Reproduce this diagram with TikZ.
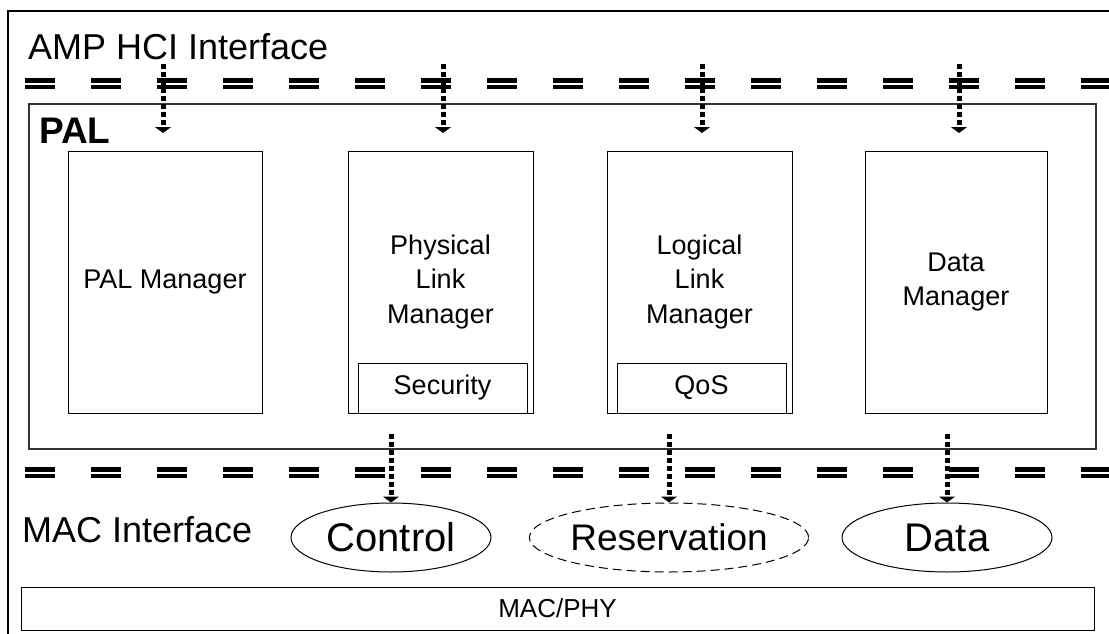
\documentclass[tikz,border=0pt]{standalone}
\usepackage{fontspec}
\setmainfont{Liberation Sans}
\usetikzlibrary{shapes.geometric,arrows.meta}

\begin{document}
\begin{tikzpicture}[x=1pt,y=-1pt,
    mgr/.style={draw, line width=1pt, minimum width=185pt, minimum height=262pt, align=center, font=\fontsize{27}{34.5}\selectfont},
    sub/.style={draw, line width=1pt, minimum width=169pt, minimum height=50pt, inner sep=0pt, font=\fontsize{27}{32}\selectfont},
    chan/.style={ellipse, draw, line width=1pt, minimum height=69pt, inner sep=0pt, font=\fontsize{40}{48}\selectfont},
    lbl/.style={anchor=base west, inner sep=0pt, font=\fontsize{36}{43}\selectfont},
    bar/.style={line width=4.5pt, dash pattern=on 30pt off 36pt},
    flow/.style={line width=5pt, dash pattern=on 5pt off 3pt, -{Triangle[width=16pt,length=6pt]}}]
    \useasboundingbox (0,0) rectangle (1109,634);

    \draw[line width=2pt] (8,640) |- (1115,11);

    \node[lbl] (hci) at (28,60) {AMP HCI Interface};
    \node[lbl] (macif) at (22,542) {MAC Interface};

    \node[draw=black!80, line width=1.5pt, minimum width=1067pt, minimum height=345pt] (pal) at (562.5,276.5) {};
    \node[anchor=base west, inner sep=0pt, font=\bfseries\fontsize{37}{44}\selectfont] (pallbl) at (39,143) {PAL};

    \node[mgr, minimum width=194pt] (palmgr) at (165,282) {PAL Manager};
    \node[mgr] (phymgr) at (440.5,282) {Physical\\Link\\Manager};
    \node[mgr] (logmgr) at (699.5,282) {Logical\\Link\\Manager};
    \node[mgr, minimum width=182pt] (datamgr) at (956,282) {Data\\Manager};

    \node[sub] (sec) at (442.5,388) {Security};
    \node[sub] (qos) at (701.5,388) {QoS};

    \node[chan, minimum width=200pt] (ctrl) at (391,537.5) {Control};
    \node[chan, dash pattern=on 9pt off 5pt, minimum width=272pt, font=\fontsize{37}{44}\selectfont] (resv) at (669,537.5) {Reservation};
    \node[chan, minimum width=210pt] (data) at (947,537.5) {Data};

    \node[draw, line width=1pt, minimum width=1073pt, minimum height=43pt, font=\fontsize{26}{31}\selectfont] (macphy) at (557.5,608.5) {MAC/PHY};

    \foreach \y in {80.5,87,469.25,475.75}
        \draw[bar] (25,\y) -- (1109,\y);

    \foreach \x [count=\i] in {163,443,702,959} {
        \coordinate (src\i) at (\x,64);
        \coordinate (dst\i) at (\x,133);
        \draw[flow] (src\i) -- (dst\i);
    }

    \coordinate (ctrlsrc) at (391,434);
    \coordinate (resvsrc) at (669,434);
    \coordinate (datasrc) at (947,434);
    \draw[flow] (ctrlsrc) -- (ctrl.north);
    \draw[flow] (resvsrc) -- (resv.north);
    \draw[flow] (datasrc) -- (data.north);

  \end{tikzpicture}
\end{document}
